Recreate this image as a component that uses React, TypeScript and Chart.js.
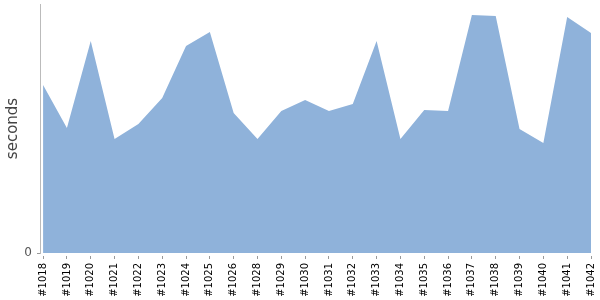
import React, { useEffect, useRef } from "react";
import { Chart, registerables } from "chart.js";

Chart.register(...registerables);

const builds = ["#1018","#1019","#1020","#1021","#1022","#1023","#1024","#1025","#1026","#1028","#1029","#1030","#1031","#1032","#1033","#1034","#1035","#1036","#1037","#1038","#1039","#1040","#1041","#1042"];
const seconds = [168,125,212,114,129,155,207,221,140,114,142,153,142,149,212,114,143,142,238,237,124,110,236,220];
const yTicks = [0];
const yMax = 249;

export default function App() {
  const ref = useRef<HTMLCanvasElement | null>(null);
  useEffect(() => {
    if (!ref.current) return;
    const chart = new Chart(ref.current, {
      type: "line",
      data: {
        datasets: [
          {
            data: seconds.map((v, i) => ({ x: i, y: v })),
            fill: "origin",
            backgroundColor: "rgb(143,178,218)",
            borderWidth: 0,
            borderColor: "rgba(0,0,0,0)",
            pointRadius: 0,
            tension: 0,
          },
        ],
      },
      options: {
        animation: false,
        responsive: false,
        maintainAspectRatio: false,
        layout: { padding: { top: 4, right: 9, left: 0, bottom: 0 } },
        plugins: { legend: { display: false }, tooltip: { enabled: false } },
        scales: {
          x: {
            type: "linear",
            min: -0.13,
            max: builds.length - 1,
            afterBuildTicks: (scale: any) => {
              scale.ticks = builds.map((_, i) => ({ value: i }));
            },
            afterFit: (scale: any) => {
              scale.paddingLeft = 0;
              scale.paddingRight = 0;
              scale.height = 47;
            },
            grid: {
              drawOnChartArea: false,
              drawTicks: true,
              tickLength: 6,
              tickColor: "#999",
              tickBorderDash: [3, 3],
              tickBorderDashOffset: 3,
            },
            border: { display: false },
            ticks: {
              autoSkip: false,
              maxRotation: 90,
              minRotation: 90,
              padding: 4,
              color: "#000",
              font: { family: "DejaVu Sans", size: 10 },
              callback: (v: any) => builds[v as number] ?? "",
            },
          },
          y: {
            min: 0,
            max: yMax,
            afterBuildTicks: (scale: any) => {
              scale.ticks = yTicks.map((v) => ({ value: v }));
            },
            afterFit: (scale: any) => {
              scale.paddingTop = 0;
              scale.paddingBottom = 0;
              scale.width = 40;
            },
            grid: {
              drawOnChartArea: false,
              drawTicks: true,
              tickLength: 3,
              tickColor: "#999",
            },
            border: { display: true, color: "#bbb", width: 1 },
            ticks: {
              padding: 5,
              color: "#555",
              font: { family: "DejaVu Sans", size: 12 },
            },
            title: {
              display: true,
              text: "seconds",
              color: "#444",
              padding: { top: 4, bottom: 3 },
              font: { family: "DejaVu Sans", size: 15 },
            },
          },
        },
      },
    });
    return () => chart.destroy();
  }, []);
  return (
    <div style={{ position: "fixed", left: 0, top: 0, width: 600, height: 300 }}>
      <canvas ref={ref} width={600} height={300} style={{ width: 600, height: 300 }} />
    </div>
  );
}
